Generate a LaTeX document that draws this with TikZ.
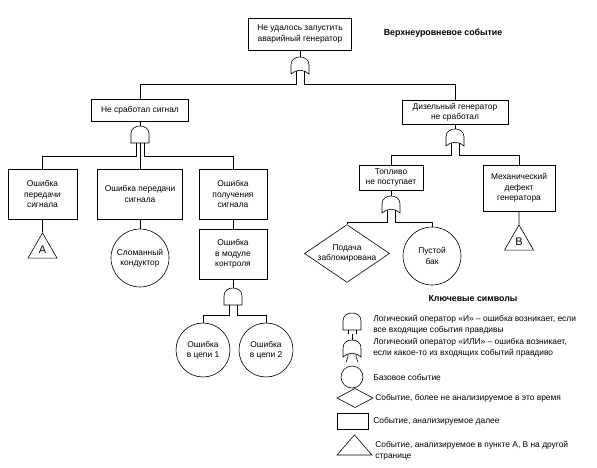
\documentclass[tikz,border=0pt]{standalone}
\usepackage{fontspec}
\setmainfont{Liberation Sans}
\usetikzlibrary{shapes.geometric}
\tikzset{
  txt/.style={font=\fontsize{8.4}{10.4}\selectfont, align=center},
  box/.style={draw, txt, inner sep=1pt},
  circ/.style={draw, circle, txt, inner sep=0pt},
  tri/.style={draw, regular polygon, regular polygon sides=3, inner sep=0pt, font=\fontsize{11}{12}\selectfont},
  dia/.style={draw, diamond, txt, inner sep=0pt},
  lbl/.style={font=\fontsize{8.8}{10}\selectfont\bfseries},
  leg/.style={font=\fontsize{8.4}{10.8}\selectfont, align=left, anchor=west, inner sep=0pt},
  ln/.style={line width=0.6pt},
}
% gate: name, x, ytop, bus y ; AND = flat bottom
\newcommand{\andgate}[4]{%
  \coordinate (#1) at (#2,#3);
  \draw[ln] ({#2-9},{#3+17}) -- ({#2-9},{#3+8})
    .. controls ({#2-9},{#3+2}) and ({#2-4},{#3}) .. (#2,#3)
    .. controls ({#2+4},{#3}) and ({#2+9},{#3+2}) .. ({#2+9},{#3+8})
    -- ({#2+9},{#3+17}) -- cycle;
  \coordinate (#1-l) at ({#2-4},{#3+17});
  \coordinate (#1-c) at (#2,{#3+17});
  \coordinate (#1-r) at ({#2+4},{#3+17});
  \coordinate (#1-bus) at (#2,#4);
}
\newcommand{\orgate}[4]{%
  \coordinate (#1) at (#2,#3);
  \draw[ln] ({#2-9},{#3+17}) -- ({#2-9},{#3+8})
    .. controls ({#2-9},{#3+2}) and ({#2-4},{#3}) .. (#2,#3)
    .. controls ({#2+4},{#3}) and ({#2+9},{#3+2}) .. ({#2+9},{#3+8})
    -- ({#2+9},{#3+17})
    .. controls ({#2+4},{#3+12}) and ({#2-4},{#3+12}) .. ({#2-9},{#3+17});
  \coordinate (#1-l) at ({#2-4},{#3+14.2});
  \coordinate (#1-c) at (#2,{#3+13.3});
  \coordinate (#1-r) at ({#2+4},{#3+14.2});
  \coordinate (#1-bus) at (#2,#4);
}
\begin{document}
\begin{tikzpicture}[x=1pt,y=-1pt,ln]
\useasboundingbox (0,0) rectangle (597,468);
\fill[white] (0,0) rectangle (597,468);

% top event
\node[box, minimum width=103, minimum height=32] (top) at (300,34) {Не удалось запустить\\аварийный генератор};
\node[lbl] (toplbl) at (443,33) {Верхнеуровневое событие};
\orgate{g1}{300}{57}{84}
\draw (top.south) -- (g1);

\node[box, minimum width=97, minimum height=22] (sig) at (140,110) {Не сработал сигнал};
\node[box, minimum width=106, minimum height=24] (dsl) at (455,112) {Дизельный генератор\\не сработал};
\draw (g1-l) -- (g1-l |- g1-bus) -| (sig.north);
\draw (g1-r) -- (g1-r |- g1-bus) -| (dsl.north);

% signal branch
\andgate{gs}{140}{126}{156}
\draw (sig.south) -- (gs);
\node[box, minimum width=69, minimum height=50] (tx1) at (42.5,194) {Ошибка\\передачи\\сигнала};
\node[box, minimum width=85, minimum height=50] (tx2) at (140,194) {Ошибка передачи\\сигнала};
\node[box, minimum width=68, minimum height=50] (rx) at (233,194) {Ошибка\\получения\\сигнала};
\draw (gs-l) -- (gs-l |- gs-bus) -| (tx1.north);
\draw (gs-c) -- (tx2.north);
\draw (gs-r) -- (gs-r |- gs-bus) -| (rx.north);

\node[tri, minimum size=33.5] (ta) at (42.5,249.7) {A};
\draw (tx1.south) -- (ta.north);
\node[circ, minimum size=58] (brk) at (140,258) {Сломанный\\кондуктор};
\draw (tx2.south) -- (brk.north);
\node[box, minimum width=68, minimum height=50] (mod) at (233,254) {Ошибка\\в модуле\\контроля};
\draw (rx.south) -- (mod.north);
\andgate{gm}{233}{288}{315}
\draw (mod.south) -- (gm);
\node[circ, minimum size=54] (c1) at (203,350) {Ошибка\\в цепи 1};
\node[circ, minimum size=54] (c2) at (266,350) {Ошибка\\в цепи 2};
\draw (gm-l) -- (gm-l |- gm-bus) -| (c1.north);
\draw (gm-r) -- (gm-r |- gm-bus) -| (c2.north);

% diesel branch
\orgate{gd}{455}{129}{155}
\draw (dsl.south) -- (gd);
\node[box, minimum width=64, minimum height=25] (fuel) at (391,177.5) {Топливо\\не поступает};
\node[box, minimum width=72, minimum height=46] (mech) at (519,188) {Механический\\дефект\\генератора};
\draw (gd-l) -- (gd-l |- gd-bus) -| (fuel.north);
\draw (gd-r) -- (gd-r |- gd-bus) -| (mech.north);
\node[tri, minimum size=33.5] (tb) at (519,241.7) {B};
\draw (mech.south) -- (tb.north);
\orgate{gf}{391}{196}{222}
\draw (fuel.south) -- (gf);
\node[dia, minimum width=81, minimum height=55, aspect=1.47] (blk) at (347,253.5) {Подача\\заблокирована};
\node[circ, minimum size=58] (tank) at (432,256) {Пустой\\бак};
\draw (gf-l) -- (gf-l |- gf-bus) -| (blk.north);
\draw (gf-r) -- (gf-r |- gf-bus) -| (tank.north);

% legend
\node[lbl] (legt) at (473,299) {Ключевые символы};
\andgate{la}{352}{313}{334}
\draw (la-l) -- (la-l |- la-bus);
\draw (la-r) -- (la-r |- la-bus);
\node[leg] (lat) at (373,324.5) {Логический оператор «И» – ошибка возникает, если\\все входящие события правдивы};
\orgate{lo}{352}{340}{362}
\draw (la-bus) -- (lo);
\draw (lo-l) .. controls ++(0,4) and ++(1,-3) .. ++(-2,8);
\draw (lo-r) .. controls ++(0,4) and ++(-1,-3) .. ++(2,8);
\node[leg] (lot) at (373,347.5) {Логический оператор «ИЛИ» – ошибка возникает,\\если какое-то из входящих событий правдиво};
\draw (352,377) circle[radius=11];
\node[leg] (lct) at (373,377) {Базовое событие};
\draw (337,398) -- (355,388.5) -- (373,398) -- (355,407.5) -- cycle;
\node[leg] (ldt) at (375,398) {Событие, более не анализируемое в это время};
\draw (337,413) rectangle (368,429);
\node[leg] (lrt) at (373,421) {Событие, анализируемое далее};
\draw (337,455) -- (354.5,435) -- (372,455) -- cycle;
\node[leg] (ltt) at (375,451) {Событие, анализируемое в пункте А, В на другой\\странице};
\end{tikzpicture}
\end{document}
